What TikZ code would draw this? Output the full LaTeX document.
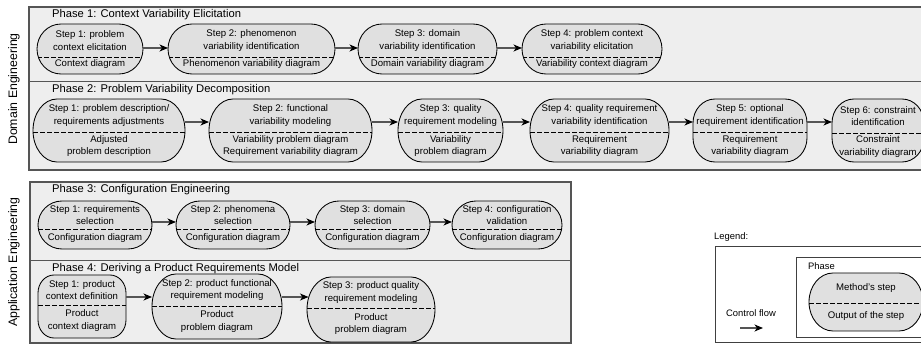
\documentclass[tikz,border=0pt]{standalone}
\usepackage{fontspec}
\setmainfont{Liberation Sans}
\usetikzlibrary{arrows.meta}
\definecolor{boxfill}{HTML}{EEEEEE}
\definecolor{stepfill}{HTML}{E0E0E0}
\definecolor{boxline}{HTML}{555555}
\definecolor{flowline}{HTML}{555555}
\tikzset{
 phasebox/.style={draw=boxline, line width=1.3pt, fill=boxfill},
 phasesep/.style={draw=boxline, line width=1pt},
 phasetitle/.style={anchor=west, inner sep=0pt, font=\fontsize{11.2}{13}\selectfont},
 stadium/.style={inner sep=0pt, outer sep=0pt},
 stadline/.style={draw=black, line width=0.85pt, fill=stepfill},
 sepline/.style={draw=black, line width=0.85pt, dash pattern=on 5pt off 2pt},
 steptext/.style={align=center, inner sep=0pt, font=\fontsize{9.6}{12.5}\selectfont},
 flow/.style={draw=flowline, line width=1.1pt, -{Stealth[length=8.5pt,width=7pt,inset=2.5pt,color=black]}},
 sidelabel/.style={rotate=90, inner sep=0pt, font=\fontsize{12.3}{14}\selectfont},
 legendbox/.style={draw=black!75, line width=0.8pt, fill=white},
 legendtext/.style={inner sep=0pt, font=\fontsize{9.4}{12}\selectfont},
}
% end shape: horizontal radius \endrad, vertical radius \endry (0 = half the height)
\def\endrad{24}
\def\endry{0}
% outline of a step: #1 x1, #2 x2, #3 ytop, #4 ybottom, uses \sa and \sb
\newcommand{\stadpath}[4]{(#1+\sa,-#3) -- (#2-\sa,-#3)
  arc[start angle=90,end angle=0,x radius=\sa,y radius=\sb]
  -- (#2,-#4+\sb)
  arc[start angle=0,end angle=-90,x radius=\sa,y radius=\sb]
  -- (#1+\sa,-#4)
  arc[start angle=270,end angle=180,x radius=\sa,y radius=\sb]
  -- (#1,-#3-\sb)
  arc[start angle=180,end angle=90,x radius=\sa,y radius=\sb] -- cycle}
% #1 name, #2 x1, #3 x2, #4 ytop, #5 ybottom, #6 ysep, #7 top text, #8 bottom text
\newcommand{\stepbox}[8]{%
 \pgfmathsetmacro{\sa}{\endrad}%
 \pgfmathsetmacro{\sb}{\endry==0 ? (#5-#4)/2 : \endry}%
 \node[stadium, minimum width={(#3-#2)*1pt}, minimum height={(#5-#4)*1pt}] (#1) at ({(#2+#3)/2},{-(#4+#5)/2}) {};
 \draw[stadline] \stadpath{#2}{#3}{#4}{#5};
 \begin{scope}
  \clip \stadpath{#2}{#3}{#4}{#5};
  \draw[sepline] (#2,-#6) -- (#3,-#6);
 \end{scope}
 \node[steptext] (#1-t) at ({(#2+#3)/2},{-(#4+#6)/2}) {#7};
 \node[steptext] (#1-b) at ({(#2+#3)/2},{-(#6+#5)/2+1}) {#8};
}
\begin{document}
\begin{tikzpicture}[x=1pt,y=1pt]
\useasboundingbox (0,0) rectangle (921,-347);
\clip (0,0) rectangle (921,-347);

% side labels
\node[sidelabel] (domlabel) at (14,-89) {Domain Engineering};
\node[sidelabel] (applabel) at (14,-262) {Application Engineering};

% Domain engineering box
\draw[phasebox] (29,-7) rectangle (940,-170);
\draw[phasesep] (29,-82) -- (940,-82);
\node[phasetitle] (p1) at (52,-15) {Phase 1: Context Variability Elicitation};
\node[phasetitle] (p2) at (52,-90) {Phase 2: Problem Variability Decomposition};

\stepbox{d1s1}{37}{143}{24}{74}{57}{Step 1: problem\\context elicitation}{Context diagram}
\stepbox{d1s2}{168}{335}{24}{74}{57}{Step 2: phenomenon\\variability identification}{Phenomenon variability diagram}
\stepbox{d1s3}{358}{497}{24}{74}{57}{Step 3: domain\\variability identification}{Domain variability diagram}
\stepbox{d1s4}{522}{662}{24}{74}{57}{Step 4: problem context\\variability elicitation}{Variability context diagram}
\draw[flow] (d1s1.east |- 0,-48) -- (d1s2.west |- 0,-48);
\draw[flow] (d1s2.east |- 0,-48) -- (d1s3.west |- 0,-48);
\draw[flow] (d1s3.east |- 0,-48) -- (d1s4.west |- 0,-48);

\stepbox{d2s1}{33}{185}{99}{162}{132}{Step 1: problem description/\\requirements adjustments}{Adjusted\\problem description}
\stepbox{d2s2}{209}{372}{99}{162}{132}{Step 2: functional\\variability modeling}{Variability problem diagram\\Requirement variability diagram}
\stepbox{d2s3}{398}{503}{99}{162}{132}{Step 3: quality\\requirement modeling}{Variability\\problem diagram}
\stepbox{d2s4}{530}{669}{99}{162}{132}{Step 4: quality requirement\\variability identification}{Requirement\\variability diagram}
\def\endrad{22}\def\endry{24}
\stepbox{d2s5}{693}{807}{99}{162}{132}{Step 5: optional\\requirement identification}{Requirement\\variability diagram}
\stepbox{d2s6}{832}{924}{99}{162}{133}{Step 6: constraint\\identification}{Constraint\\variability diagram}
\def\endrad{24}\def\endry{0}
\draw[flow] (d2s1.east |- 0,-122) -- (d2s2.west |- 0,-122);
\draw[flow] (d2s2.east |- 0,-122) -- (d2s3.west |- 0,-122);
\draw[flow] (d2s3.east |- 0,-122) -- (d2s4.west |- 0,-122);
\draw[flow] (d2s4.east |- 0,-122) -- (d2s5.west |- 0,-122);
\draw[flow] (d2s5.east |- 0,-122) -- (d2s6.west |- 0,-122);

% Application engineering box
\draw[phasebox] (30,-182) rectangle (571,-343);
\draw[phasesep] (30,-261) -- (571,-261);
\node[phasetitle] (p3) at (52,-190) {Phase 3: Configuration Engineering};
\node[phasetitle] (p4) at (52,-269) {Phase 4: Deriving a Product Requirements Model};

\stepbox{a3s1}{38}{152}{201}{249}{229}{Step 1: requirements\\selection}{Configuration diagram}
\stepbox{a3s2}{176}{290}{201}{249}{229}{Step 2: phenomena\\selection}{Configuration diagram}
\stepbox{a3s3}{315}{430}{201}{249}{229}{Step 3: domain\\selection}{Configuration diagram}
\stepbox{a3s4}{452}{562}{201}{249}{229}{Step 4: configuration\\validation}{Configuration diagram}
\draw[flow] (a3s1.east |- 0,-222) -- (a3s2.west |- 0,-222);
\draw[flow] (a3s2.east |- 0,-222) -- (a3s3.west |- 0,-222);
\draw[flow] (a3s3.east |- 0,-222) -- (a3s4.west |- 0,-222);

\def\endrad{16}\def\endry{18}
\stepbox{a4s1}{38}{126}{275}{338}{305}{Step 1: product\\context definition}{Product\\context diagram}
\def\endrad{24}\def\endry{0}
\stepbox{a4s2}{152}{282}{274}{339}{306}{Step 2: product functional\\requirement modeling}{Product\\problem diagram}
\stepbox{a4s3}{307}{435}{277}{342}{308}{Step 3: product quality\\requirement modeling}{Product\\problem diagram}
\draw[flow] (a4s1.east |- 0,-297) -- (a4s2.west |- 0,-297);
\draw[flow] (a4s2.east |- 0,-297) -- ([xshift=1.5pt]a4s3.west |- 0,-297);

% Legend
\node[legendtext, anchor=west] (legtitle) at (714,-237) {Legend:};
\draw[legendbox] (715,-246) rectangle (940,-342);
\draw[legendbox] (796,-257) rectangle (940,-337);
\node[legendtext, anchor=west] (legphase) at (808,-266) {Phase};
\stepbox{legstep}{809}{923}{273}{331}{303}{Method's step}{Output of the step}
\node[legendtext] (legcf) at (751,-313) {Control flow};
\coordinate (cfa) at (740,-328);
\coordinate (cfb) at (763,-328);
\draw[flow] (cfa) -- (cfb);
\end{tikzpicture}
\end{document}
